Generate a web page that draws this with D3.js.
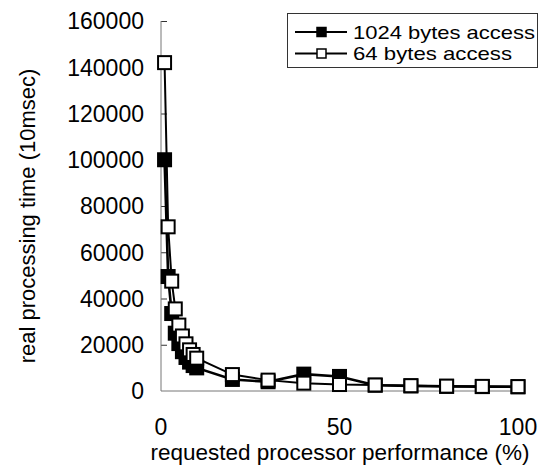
<!DOCTYPE html>
<html>
<head>
<meta charset="utf-8">
<script src="https://cdn.jsdelivr.net/npm/d3@7"></script>
<style>
  body { margin: 0; background: #fff; }
  svg text { font-family: "Liberation Sans", Arial, sans-serif; fill: #000; }
</style>
</head>
<body>
<div id="chart"></div>
<script>
// requested processor performance (%)
var perf = [1, 2, 3, 4, 5, 6, 7, 8, 9, 10, 20, 30, 40, 50, 60, 70, 80, 90, 100];
// real processing time (10msec)
var access1024 = [100000, 49500, 33500, 25000, 20500, 17000, 14500, 12500, 11000, 10000, 5000, 4000, 7300, 6300, 2500, 2200, 2000, 1900, 1800];
var access64 = [142000, 71000, 47500, 35500, 28500, 23800, 20400, 17800, 15800, 14200, 7100, 4700, 3400, 2800, 2600, 2300, 2100, 2000, 1900];
var yTicks = [0, 20000, 40000, 60000, 80000, 100000, 120000, 140000, 160000];
var xTicks = [0, 50, 100];

var width = 539, height = 472;
var margin = {top: 21, right: 21, bottom: 81, left: 161};

var svg = d3.select('#chart').append('svg')
	.attr('width', width)
	.attr('height', height);

var x = d3.scaleLinear().domain([0, 100]).range([margin.left, width - margin.right]);
var y = d3.scaleLinear().domain([0, 160000]).range([height - margin.bottom, margin.top]);

// y axis, ticks pointing inward
var yAxis = d3.axisRight(y).tickValues(yTicks.slice(1)).tickSize(6).tickFormat('');
var gy = svg.append('g')
	.attr('transform', 'translate(' + margin.left + ',0)')
	.call(yAxis);
gy.select('.domain').remove();
gy.selectAll('.tick line').attr('stroke', '#333');
svg.append('line')
	.attr('x1', margin.left).attr('x2', margin.left)
	.attr('y1', y(160000)).attr('y2', y(0))
	.attr('stroke', '#777');

// x baseline
svg.append('line')
	.attr('x1', x(0)).attr('x2', x(100))
	.attr('y1', y(0)).attr('y2', y(0))
	.attr('stroke', '#777');

svg.selectAll('.ylab')
	.data(yTicks).enter().append('text')
	.attr('class', 'ylab')
	.attr('x', margin.left - 17)
	.attr('y', function(d) { return y(d); })
	.attr('dy', '0.36em')
	.attr('text-anchor', 'end')
	.style('font-size', '23px')
	.text(function(d) { return d; });

svg.selectAll('.xlab')
	.data(xTicks).enter().append('text')
	.attr('class', 'xlab')
	.attr('x', function(d) { return x(d); })
	.attr('y', 435)
	.attr('text-anchor', 'middle')
	.style('font-size', '23px')
	.text(function(d) { return d; });

svg.append('text')
	.attr('x', 340)
	.attr('y', 460)
	.attr('text-anchor', 'middle')
	.style('font-size', '22.5px')
	.text('requested processor performance (%)');

svg.append('text')
	.attr('transform', 'translate(35,' + 216 + ') rotate(-90)')
	.attr('text-anchor', 'middle')
	.style('font-size', '22px')
	.text('real processing time (10msec)');

var line = d3.line()
	.x(function(d) { return x(d[0]); })
	.y(function(d) { return y(d[1]); });

var series = [
	{name: '1024 bytes access', values: access1024, fill: '#000', width: 2.6, len: 182},
	{name: '64 bytes access', values: access64, fill: '#fff', width: 2, len: 159}
];

var MARK = 13;
series.forEach(function(s) {
	var pts = perf.map(function(p, i) { return [p, s.values[i]]; });
	svg.append('path')
		.datum(pts)
		.attr('fill', 'none')
		.attr('stroke', '#000')
		.attr('stroke-width', s.width)
		.attr('d', line);
	svg.selectAll(null)
		.data(pts).enter().append('rect')
		.attr('x', function(d) { return x(d[0]) - MARK / 2; })
		.attr('y', function(d) { return y(d[1]) - MARK / 2; })
		.attr('width', MARK)
		.attr('height', MARK)
		.attr('fill', s.fill)
		.attr('stroke', '#000')
		.attr('stroke-width', 2);
});

// legend
var lg = svg.append('g');
lg.append('rect')
	.attr('x', 287.5).attr('y', 13.5)
	.attr('width', 250).attr('height', 54)
	.attr('fill', '#fff')
	.attr('stroke', '#333');
series.forEach(function(s, i) {
	var cy = 32 + i * 21.5;
	lg.append('line')
		.attr('x1', 295).attr('x2', 347)
		.attr('y1', cy).attr('y2', cy)
		.attr('stroke', '#000').attr('stroke-width', 2);
	lg.append('rect')
		.attr('x', 317).attr('y', cy - 4.5)
		.attr('width', 9).attr('height', 9)
		.attr('fill', s.fill)
		.attr('stroke', '#000').attr('stroke-width', 1.5);
	lg.append('text')
		.attr('x', 353).attr('y', cy + 6.5)
		.attr('textLength', s.len)
		.attr('lengthAdjust', 'spacingAndGlyphs')
		.style('font-size', '19px')
		.text(s.name);
});
</script>
</body>
</html>
